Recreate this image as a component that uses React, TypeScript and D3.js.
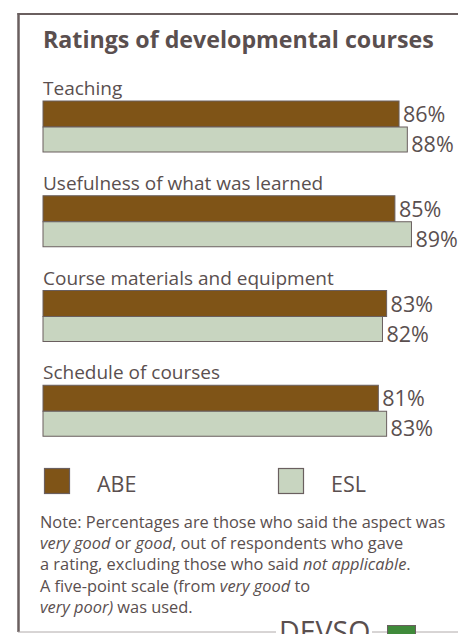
import { useEffect, useRef } from 'react';
import * as d3 from 'd3';

const categories = ['Teaching', 'Usefulness of what was learned', 'Course materials and equipment', 'Schedule of courses'];
const abeValues = [86, 85, 83, 81];
const eslValues = [88, 89, 82, 83];
const seriesNames = ['ABE', 'ESL'];

const noteLines: [string, boolean][][] = [
  [['Note: Percentages are those who said the aspect was', false]],
  [['very good', true], [' or ', false], ['good', true], [', out of respondents who gave', false]],
  [['a rating, excluding those who said ', false], ['not applicable', true], ['.', false]],
  [['A five-point scale (from ', false], ['very good', true], [' to', false]],
  [['very poor)', true], [' was used.', false]],
];

const TEXT = '#5a4f4f';
const STROKE = '#6a5f5f';
const ABE_FILL = '#7f5417';
const ESL_FILL = '#c8d5c0';
const FONT = '"Open Sans", sans-serif';

export default function App() {
  const svgRef = useRef<SVGSVGElement>(null);

  useEffect(() => {
    const svg = d3.select(svgRef.current);
    svg.selectAll('*').remove();

    const W = 458, H = 634;
    svg.attr('width', W).attr('height', H).attr('viewBox', `0 0 ${W} ${H}`);

    svg.append('rect').attr('width', W).attr('height', H).attr('fill', '#fff');

    // frame
    svg.append('line').attr('x1', 17.5).attr('x2', W).attr('y1', 14).attr('y2', 14)
      .attr('stroke', STROKE).attr('stroke-width', 2);
    svg.append('line').attr('x1', 18.5).attr('x2', 18.5).attr('y1', 13).attr('y2', 632)
      .attr('stroke', STROKE).attr('stroke-width', 2.5);
    // bottom rule, broken by logo
    [[18, 276], [372, 387], [416, W]].forEach(([a, b]) => {
      svg.append('line').attr('x1', a).attr('x2', b).attr('y1', 632).attr('y2', 632)
        .attr('stroke', '#b0aaaa').attr('stroke-width', 1);
    });
    svg.append('text').attr('x', 279).attr('y', 642)
      .attr('font-family', FONT).attr('font-size', 28.5).attr('fill', TEXT)
      .text('DEVSO');
    svg.append('rect').attr('x', 387.5).attr('y', 625.5).attr('width', 28).attr('height', 20)
      .attr('fill', '#3f8a3a').attr('stroke', STROKE).attr('stroke-width', 1);

    // title
    svg.append('text').attr('x', 43).attr('y', 48)
      .attr('font-family', FONT).attr('font-weight', 700).attr('font-size', 23.2).attr('fill', TEXT)
      .text('Ratings of developmental courses');

    const x = d3.scaleLinear().domain([0, 100]).range([43, 457]);
    const y = d3.scaleBand<string>().domain(categories).range([101, 480]);
    const abeH = 26, eslH = 25;

    const g = svg.append('g');
    categories.forEach((c, i) => {
      const top = y(c)!;
      g.append('text').attr('x', 43).attr('y', top - 6)
        .attr('font-family', FONT).attr('font-size', 19).attr('fill', TEXT)
        .text(c);

      g.append('rect').attr('x', x(0)).attr('y', top)
        .attr('width', x(abeValues[i]) - x(0)).attr('height', abeH)
        .attr('fill', ABE_FILL).attr('stroke', STROKE).attr('stroke-width', 1);
      g.append('rect').attr('x', x(0)).attr('y', top + abeH)
        .attr('width', x(eslValues[i]) - x(0)).attr('height', eslH)
        .attr('fill', ESL_FILL).attr('stroke', STROKE).attr('stroke-width', 1);

      g.append('text').attr('x', x(abeValues[i]) + 4).attr('y', top + 21)
        .attr('font-family', FONT).attr('font-size', 21.5).attr('fill', TEXT)
        .text(`${abeValues[i]}%`);
      g.append('text').attr('x', x(eslValues[i]) + 4).attr('y', top + abeH + 25)
        .attr('font-family', FONT).attr('font-size', 21.5).attr('fill', TEXT)
        .text(`${eslValues[i]}%`);
    });

    // legend
    const legendX = [44, 278];
    const fills = [ABE_FILL, ESL_FILL];
    seriesNames.forEach((s, i) => {
      svg.append('rect').attr('x', legendX[i] + 0.5).attr('y', 468.5).attr('width', 25).attr('height', 25)
        .attr('fill', fills[i]).attr('stroke', STROKE).attr('stroke-width', 1.2);
      svg.append('text').attr('x', legendX[i] + 53).attr('y', 492)
        .attr('font-family', FONT).attr('font-size', 21.5).attr('fill', TEXT)
        .text(s);
    });

    // note
    const note = svg.append('text').attr('font-family', FONT).attr('font-size', 16.4).attr('fill', TEXT);
    noteLines.forEach((parts, li) => {
      parts.forEach(([t, it], pi) => {
        const ts = note.append('tspan').attr('font-style', it ? 'italic' : 'normal').text(t);
        if (pi === 0) ts.attr('x', 40).attr('y', 528 + li * 21.2);
      });
    });
  }, []);

  return (
    <div style={{ position: 'absolute', left: 0, top: 0 }}>
      <svg ref={svgRef} role="img" aria-label="Ratings of developmental courses" style={{ display: 'block' }} />
    </div>
  );
}
